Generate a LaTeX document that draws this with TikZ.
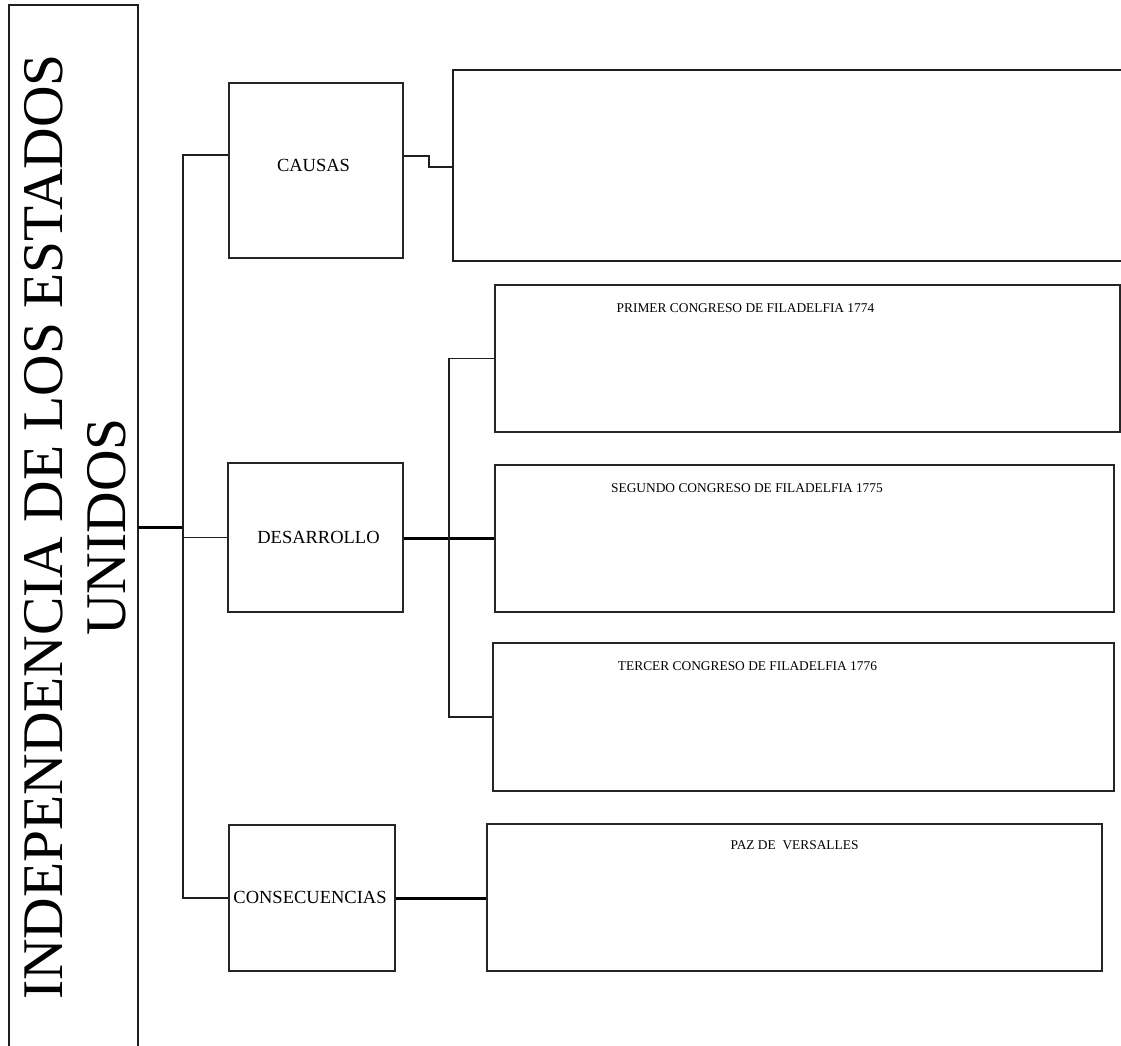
\documentclass[tikz,border=0pt]{standalone}
\usepackage{fontspec}
\setmainfont{Liberation Serif}
\begin{document}
\begin{tikzpicture}[x=1pt,y=-1pt,
  box/.style={draw=black!85, line width=1.9pt, inner sep=0pt},
  frame/.style={inner sep=0pt},
  edge/.style={draw=black!88, line width=1.8pt, line join=miter},
  heavy/.style={draw=black, line width=3pt},
  title/.style={inner sep=0pt, rotate=90, anchor=base, font=\fontsize{57.5}{63}\selectfont},
  lab/.style={inner sep=0pt, font=\fontsize{18.5}{21}\selectfont},
  sub/.style={inner sep=0pt, font=\fontsize{13.4}{15}\selectfont}]
\useasboundingbox (0,0) rectangle (1121,1046);
\clip (0,0) rectangle (1121,1046);

% main (open at bottom)
\node[frame, minimum width=129pt, minimum height=1055pt] (main) at (73.5,532.5) {};
\draw[edge] (main.south west) -- (main.north west) -- (main.north east) -- (main.south east);
\node[title] (title1) at (62,527) {INDEPENDENCIA DE LOS ESTADOS};
\node[title] (title2) at (125,527) {UNIDOS};

% second level
\node[box, minimum width=174pt, minimum height=175pt] (causas) at (316,170.5) {};
\node[box, minimum width=175pt, minimum height=149pt] (desarrollo) at (315.5,537.5) {};
\node[box, minimum width=166pt, minimum height=146pt] (consec) at (312,898) {};
\node[lab] (tcausas) at (313.5,165) {CAUSAS};
\node[lab] (tdesarrollo) at (318.5,537) {DESARROLLO};
\node[lab] (tconsec) at (310,897) {CONSECUENCIAS};

% third level
\node[frame, minimum width=677pt, minimum height=191pt] (cbig) at (791.5,165.5) {};
\draw[edge] (cbig.north east) -- (cbig.north west) -- (cbig.south west) -- (cbig.south east);
\node[box, minimum width=625pt, minimum height=147pt] (primer) at (807.5,358.5) {};
\node[box, minimum width=619pt, minimum height=147pt] (segundo) at (804.5,538.5) {};
\node[box, minimum width=621pt, minimum height=148pt] (tercer) at (803.5,717) {};
\node[box, minimum width=615pt, minimum height=147pt] (paz) at (794.5,897.5) {};
\node[sub] (tprimer) at (745.5,308) {PRIMER CONGRESO DE FILADELFIA 1774};
\node[sub] (tsegundo) at (747,488) {SEGUNDO CONGRESO DE FILADELFIA 1775};
\node[sub] (ttercer) at (747.5,666) {TERCER CONGRESO DE FILADELFIA 1776};
\node[sub] (tpaz) at (794.5,845) {PAZ DE\ \ VERSALLES};

% connectors
\coordinate (j) at (183,527);
\coordinate (sTop) at (183,155);
\coordinate (sBot) at (183,898);
\draw[heavy] (main.east |- j) -- (j);
\draw[edge] (causas.west |- sTop) -- (sTop) -- (sBot) -- (consec.west |- sBot);
\draw[edge, line width=1.4pt] (desarrollo.west -| sTop) -- (desarrollo.west);

\coordinate (c1) at (429,156);
\coordinate (c2) at (429,167);
\draw[edge] (causas.east |- c1) -- (c1) -- (c2) -- (cbig.west |- c2);

\coordinate (d) at (449,538);
\draw[heavy] (desarrollo.east |- segundo.west) -- (segundo.west);
\draw[edge] (primer.west) -- (primer.west -| d) -- (tercer.west -| d) -- (tercer.west);
\draw[heavy] (consec.east) -- (consec.east -| paz.west);
\end{tikzpicture}
\end{document}
